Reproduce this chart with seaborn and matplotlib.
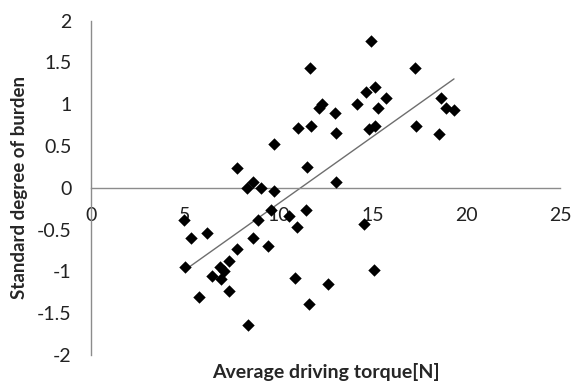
import matplotlib
matplotlib.use("Agg")
import matplotlib.pyplot as plt
import numpy as np
import pandas as pd
import seaborn as sns

# average driving torque [N]
torque = [4.98, 5.02, 5.34, 5.73, 6.18, 6.44, 6.90, 7.07, 6.92, 7.33,
          7.37, 7.78, 7.78, 8.31, 8.62, 8.37, 8.62, 8.88, 9.06, 9.44,
          9.60, 9.76, 9.76, 10.54, 10.90, 10.98, 11.02, 11.46, 11.52, 11.61,
          11.66, 11.73, 12.18, 12.32, 12.62, 13.03, 13.07, 13.07, 14.16, 14.55,
          14.64, 14.81, 14.90, 15.08, 15.12, 15.12, 15.30, 15.74, 17.27, 17.30,
          18.55, 18.68, 18.94, 19.35]
# standard degree of burden
burden = [-0.39, -0.95, -0.60, -1.31, -0.54, -1.05, -0.95, -1.00, -1.09, -0.88,
          -1.23, 0.24, -0.73, 0.00, 0.07, -1.64, -0.60, -0.39, 0.00, -0.70,
          -0.27, -0.04, 0.53, -0.34, -1.08, -0.47, 0.72, -0.27, 0.25, -1.39,
          1.43, 0.74, 0.96, 1.00, -1.15, 0.90, 0.66, 0.07, 1.00, -0.43,
          1.15, 0.70, 1.76, -0.98, 1.21, 0.74, 0.95, 1.07, 1.43, 0.74,
          0.64, 1.07, 0.96, 0.93]

xticks = [0, 5, 10, 15, 20, 25]
yticks = [-2, -1.5, -1, -0.5, 0, 0.5, 1, 1.5, 2]

df = pd.DataFrame({"torque": torque, "burden": burden})

sns.set_style("white")
plt.rcParams["font.family"] = ["Lato", "DejaVu Sans"]

fig = plt.figure(figsize=(5.71, 3.81), dpi=100)
ax = fig.add_axes([0.1594, 0.0682, 0.8213, 0.8775])

sns.regplot(data=df, x="torque", y="burden", ci=None, truncate=True, ax=ax,
            marker="D",
            scatter_kws={"s": 40, "color": "black", "alpha": 1.0,
                         "linewidths": 0, "zorder": 3},
            line_kws={"color": "#6e6e6e", "lw": 1.0, "zorder": 2})

ax.set_xlim(0, 25)
ax.set_ylim(-2, 2)
ax.set_xticks(xticks)
ax.set_yticks(yticks)
ax.set_yticklabels([f"{v:g}" for v in yticks])

for s in ("top", "right"):
    ax.spines[s].set_visible(False)
ax.spines["bottom"].set_position(("data", 0))
for s in ("left", "bottom"):
    ax.spines[s].set_color("#8c8c8c")
    ax.spines[s].set_linewidth(1.0)

ax.tick_params(axis="both", which="both", direction="out", length=5,
               color="#8c8c8c", labelsize=14, labelcolor="#222222")
ax.tick_params(axis="x", pad=9)
ax.tick_params(axis="y", pad=9)

ax.set_xlabel("Average driving torque[N]", fontsize=14, fontweight="bold",
              va="center")
ax.xaxis.set_label_coords(0.5, -0.05)
ax.set_ylabel("Standard degree of burden", fontsize=13.5, fontweight="bold",
              va="center")
ax.yaxis.set_label_coords(-0.152, 0.5)

fig.savefig("out.png", dpi=100)
